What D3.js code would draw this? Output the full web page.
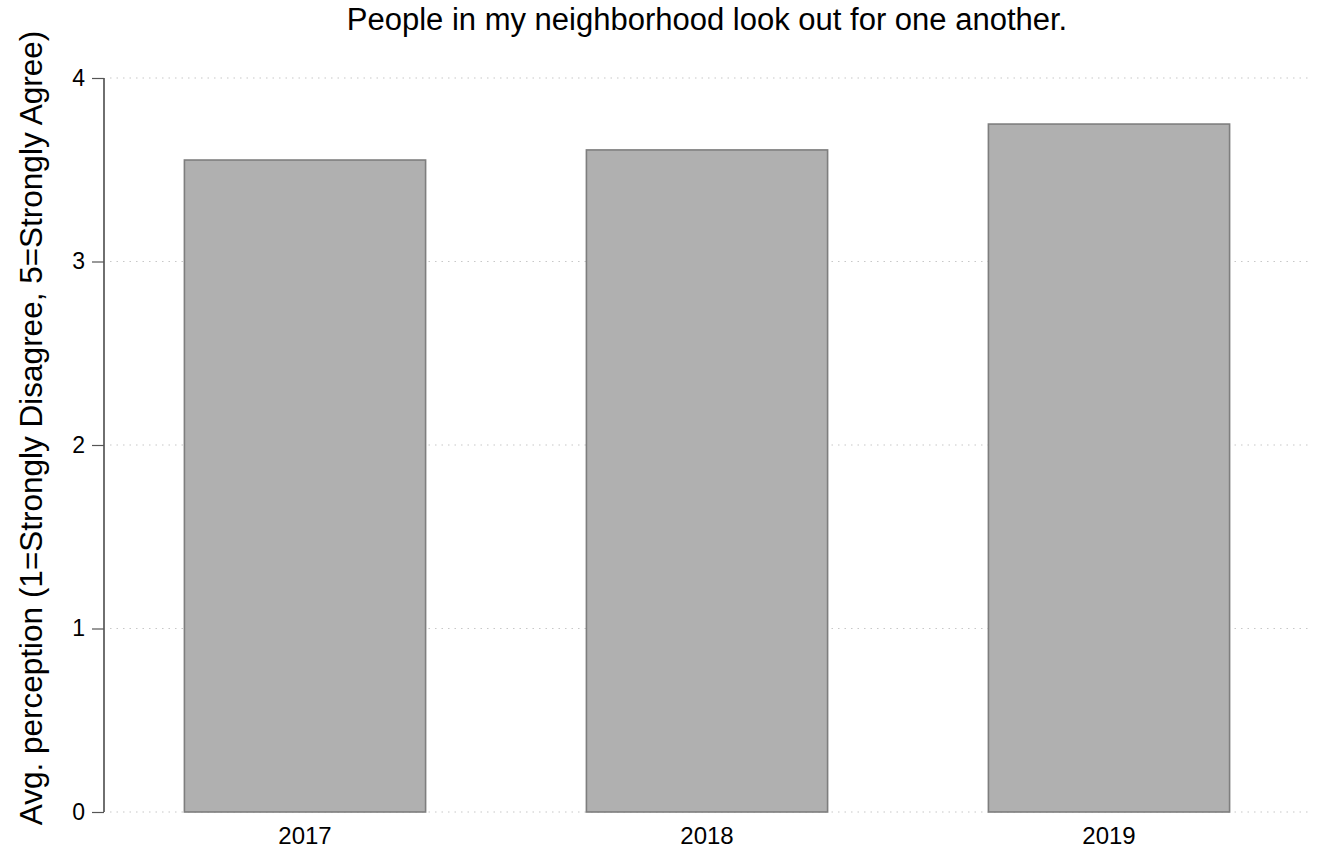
<!DOCTYPE html>
<html><head><meta charset="utf-8">
<script src="https://cdn.jsdelivr.net/npm/d3@7"></script>
<style>body{margin:0;background:#fff;} text{font-family:"Liberation Sans",Arial,sans-serif;}</style>
</head><body>
<svg id="c" width="1317" height="849"></svg>
<script>
const categories = ["2017", "2018", "2019"];
const values = [3.553, 3.608, 3.749];
const yTicks = [0, 1, 2, 3, 4];
const title = "People in my neighborhood look out for one another.";
const yLabel = "Avg. perception (1=Strongly Disagree, 5=Strongly Agree)";

const svg = d3.select("#c");
const x = d3.scaleBand().domain(categories).range([104, 1310]).paddingInner(0.4).paddingOuter(0.2);
const y = d3.scaleLinear().domain([0, 4]).range([812, 78]);

// gridlines
svg.append("g").selectAll("line").data(yTicks).join("line")
  .attr("x1", 110).attr("x2", 1308)
  .attr("y1", d => y(d)).attr("y2", d => y(d))
  .attr("stroke", "#c8c8c8").attr("stroke-width", 1.2).attr("stroke-dasharray", "1.5,5");

// bars
svg.append("g").selectAll("rect").data(values).join("rect")
  .attr("x", (d, i) => x(categories[i]))
  .attr("width", x.bandwidth())
  .attr("y", d => y(d))
  .attr("height", d => y(0) - y(d))
  .attr("fill", "#b0b0b0").attr("stroke", "#7e7e7e").attr("stroke-width", 1.6);

// y axis
const ya = svg.append("g").attr("transform", "translate(104,0)")
  .call(d3.axisLeft(y).tickValues(yTicks).tickFormat(d3.format("d")).tickSize(12).tickPadding(7));
ya.select(".domain").attr("stroke", "#222").attr("stroke-width", 1.3).attr("d", `M0,${y(4)}V${y(0)}`);
ya.selectAll(".tick line").attr("stroke", "#555").attr("stroke-width", 1.2);
ya.selectAll(".tick text").attr("font-size", 23).attr("fill", "#000").attr("font-family", "Liberation Sans, Arial, sans-serif");

// x axis labels
const xa = svg.append("g").attr("transform", `translate(0,${y(0)})`)
  .call(d3.axisBottom(x).tickSize(0).tickPadding(15));
xa.select(".domain").remove();
xa.selectAll(".tick text").attr("font-size", 24).attr("fill", "#000").attr("font-family", "Liberation Sans, Arial, sans-serif");

// title
svg.append("text").attr("x", 707).attr("y", 30).attr("text-anchor", "middle")
  .attr("font-size", 31).attr("fill", "#000").text(title);

// y label
svg.append("text").attr("transform", "translate(42,428) rotate(-90)").attr("text-anchor", "middle")
  .attr("font-size", 31.5).attr("fill", "#000").text(yLabel);
</script>
</body></html>
